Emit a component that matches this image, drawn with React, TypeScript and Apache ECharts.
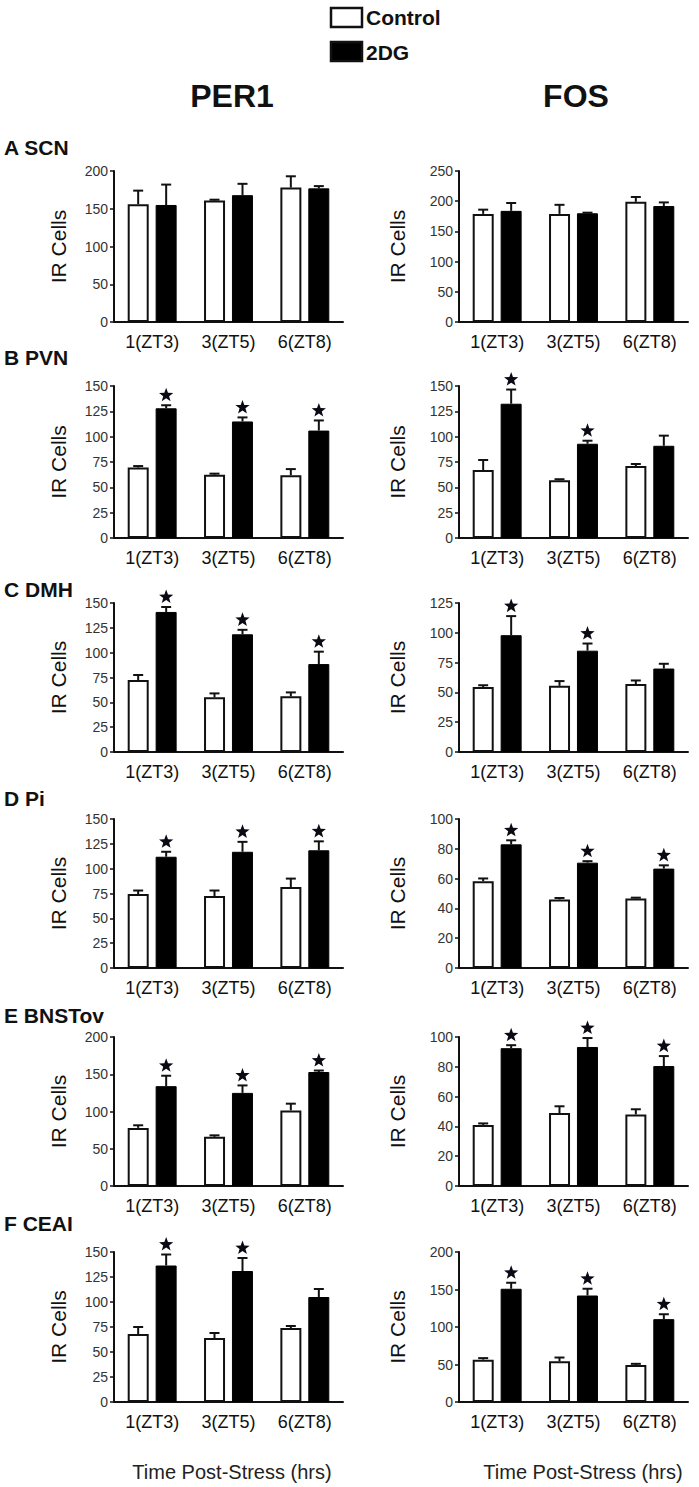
import React, { useEffect, useRef } from 'react';
import * as echarts from 'echarts';

const categories = ['1(ZT3)', '3(ZT5)', '6(ZT8)'];
const seriesNames = ['Control', '2DG'];
const columnTitles = ['PER1', 'FOS'];
const regionLabels = ['A SCN', 'B PVN', 'C DMH', 'D Pi', 'E BNSTov', 'F CEAI'];
const xTitle = 'Time Post-Stress (hrs)';
const yName = 'IR Cells';

// PER1 column
const scnPer1Ctrl = [156, 161, 178];
const scnPer1CtrlErr = [18, 1, 15];
const scnPer1Dg = [155, 168, 177];
const scnPer1DgErr = [27, 15, 3];
const scnPer1Star = [0, 0, 0];

const pvnPer1Ctrl = [69.5, 62.5, 62];
const pvnPer1CtrlErr = [1.5, 1, 6];
const pvnPer1Dg = [128, 115, 106];
const pvnPer1DgErr = [3, 4, 10];
const pvnPer1Star = [1, 1, 1];

const dmhPer1Ctrl = [72.5, 55, 56];
const dmhPer1CtrlErr = [5, 4, 4];
const dmhPer1Dg = [141, 118.5, 88.5];
const dmhPer1DgErr = [5, 4.5, 12.5];
const dmhPer1Star = [1, 1, 1];

const piPer1Ctrl = [74.5, 72.5, 81.5];
const piPer1CtrlErr = [3.5, 5.5, 8.5];
const piPer1Dg = [112, 117, 118.5];
const piPer1DgErr = [5, 10, 9];
const piPer1Star = [1, 1, 1];

const bnstPer1Ctrl = [78, 66, 101.5];
const bnstPer1CtrlErr = [3.5, 2, 9];
const bnstPer1Dg = [134, 125, 153];
const bnstPer1DgErr = [14, 10, 2];
const bnstPer1Star = [1, 1, 1];

const ceaPer1Ctrl = [68, 64, 74];
const ceaPer1CtrlErr = [7, 5, 2];
const ceaPer1Dg = [136.5, 131, 105];
const ceaPer1DgErr = [11, 13, 8];
const ceaPer1Star = [1, 1, 0];

// FOS column
const scnFosCtrl = [179, 179, 199];
const scnFosCtrlErr = [7, 15, 8];
const scnFosDg = [184, 180, 192];
const scnFosDgErr = [13, 1, 6];
const scnFosStar = [0, 0, 0];

const pvnFosCtrl = [67, 57, 71];
const pvnFosCtrlErr = [10, 1, 2];
const pvnFosDg = [132.5, 93, 91];
const pvnFosDgErr = [14, 3, 10];
const pvnFosStar = [1, 1, 0];

const dmhFosCtrl = [54.5, 55.5, 57];
const dmhFosCtrlErr = [1.5, 4, 3];
const dmhFosDg = [98, 85, 70];
const dmhFosDgErr = [16, 6, 4];
const dmhFosStar = [1, 1, 0];

const piFosCtrl = [58.3, 46, 46.7];
const piFosCtrlErr = [1.8, 1, 0.5];
const piFosDg = [83, 70.7, 66.7];
const piFosDgErr = [2.7, 1, 2.2];
const piFosStar = [1, 1, 1];

const bnstFosCtrl = [41, 49, 48];
const bnstFosCtrlErr = [1, 4.5, 3.5];
const bnstFosDg = [92.5, 93.3, 80.5];
const bnstFosDgErr = [2, 6, 6.7];
const bnstFosStar = [1, 1, 1];

const ceaFosCtrl = [56.5, 54.3, 49.4];
const ceaFosCtrlErr = [2, 5, 1.5];
const ceaFosDg = [151, 142, 110.5];
const ceaFosDgErr = [8, 9, 6.5];
const ceaFosStar = [1, 1, 1];

// y-axis ranges: [max, interval]
const per1Axis = [[200, 50], [150, 25], [150, 25], [150, 25], [200, 50], [150, 25]];
const fosAxis = [[250, 50], [150, 25], [125, 25], [100, 20], [100, 20], [200, 50]];

const per1Panels = [
  [scnPer1Ctrl, scnPer1CtrlErr, scnPer1Dg, scnPer1DgErr, scnPer1Star],
  [pvnPer1Ctrl, pvnPer1CtrlErr, pvnPer1Dg, pvnPer1DgErr, pvnPer1Star],
  [dmhPer1Ctrl, dmhPer1CtrlErr, dmhPer1Dg, dmhPer1DgErr, dmhPer1Star],
  [piPer1Ctrl, piPer1CtrlErr, piPer1Dg, piPer1DgErr, piPer1Star],
  [bnstPer1Ctrl, bnstPer1CtrlErr, bnstPer1Dg, bnstPer1DgErr, bnstPer1Star],
  [ceaPer1Ctrl, ceaPer1CtrlErr, ceaPer1Dg, ceaPer1DgErr, ceaPer1Star],
];
const fosPanels = [
  [scnFosCtrl, scnFosCtrlErr, scnFosDg, scnFosDgErr, scnFosStar],
  [pvnFosCtrl, pvnFosCtrlErr, pvnFosDg, pvnFosDgErr, pvnFosStar],
  [dmhFosCtrl, dmhFosCtrlErr, dmhFosDg, dmhFosDgErr, dmhFosStar],
  [piFosCtrl, piFosCtrlErr, piFosDg, piFosDgErr, piFosStar],
  [bnstFosCtrl, bnstFosCtrlErr, bnstFosDg, bnstFosDgErr, bnstFosStar],
  [ceaFosCtrl, ceaFosCtrlErr, ceaFosDg, ceaFosDgErr, ceaFosStar],
];

// layout
const ROW_TOPS = [171, 386, 603, 819, 1037, 1252];
const ROW_HEIGHTS = [151, 152, 149, 149, 149, 150];
const COL_LEFTS = [114, 459];
const GRID_W = 229;
const BAR_W = 21;
const BAR_OFFSET = 14;
const LABEL_Y = [147, 357, 589, 798, 1015, 1223];
const FONT = '"Liberation Sans", Arial, Helvetica, sans-serif';

function starPoints(cx: number, cy: number, R: number, r: number) {
  const pts: number[][] = [];
  for (let k = 0; k < 10; k++) {
    const rad = k % 2 === 0 ? R : r;
    const a = -Math.PI / 2 + (k * Math.PI) / 5;
    pts.push([cx + rad * Math.cos(a), cy + rad * Math.sin(a)]);
  }
  return pts;
}

function buildOption() {
  const grid: any[] = [];
  const xAxis: any[] = [];
  const yAxis: any[] = [];
  const series: any[] = [];
  let idx = 0;
  for (let col = 0; col < 2; col++) {
    const panels = col === 0 ? per1Panels : fosPanels;
    const axes = col === 0 ? per1Axis : fosAxis;
    for (let row = 0; row < 6; row++) {
      const [ctrl, ctrlErr, dg, dgErr, star] = panels[row];
      const [max, interval] = axes[row];
      grid.push({ left: COL_LEFTS[col], top: ROW_TOPS[row], width: GRID_W, height: ROW_HEIGHTS[row] });
      xAxis.push({
        type: 'category',
        gridIndex: idx,
        data: categories,
        axisLine: { show: true, lineStyle: { color: '#111', width: 2 } },
        axisTick: { show: false },
        axisLabel: { fontSize: 18, color: '#111', margin: 11, fontFamily: FONT },
      });
      yAxis.push({
        type: 'value',
        gridIndex: idx,
        min: 0,
        max,
        interval,
        name: yName,
        nameLocation: 'middle',
        nameGap: col === 0 ? 45 : 51,
        nameTextStyle: { fontSize: 21, color: '#111', fontFamily: FONT },
        axisLine: { show: true, lineStyle: { color: '#111', width: 2 } },
        axisTick: { show: true, length: 4, lineStyle: { color: '#111', width: 1.5 } },
        axisLabel: { fontSize: 14, color: '#333', margin: 6, fontFamily: FONT },
        splitLine: { show: false },
      });
      series.push({
        type: 'bar',
        name: seriesNames[0],
        xAxisIndex: idx,
        yAxisIndex: idx,
        data: ctrl,
        barWidth: BAR_W,
        barGap: '33%',
        itemStyle: { color: '#fff', borderColor: '#111', borderWidth: 2 },
      });
      series.push({
        type: 'bar',
        name: seriesNames[1],
        xAxisIndex: idx,
        yAxisIndex: idx,
        data: dg,
        barWidth: BAR_W,
        barGap: '33%',
        itemStyle: { color: '#000', borderColor: '#000', borderWidth: 1 },
      });
      const errData: any[] = [];
      ctrl.forEach((v: number, j: number) => errData.push([j, v, ctrlErr[j], -1, 0]));
      dg.forEach((v: number, j: number) => errData.push([j, v, dgErr[j], 1, star[j]]));
      series.push({
        type: 'custom',
        xAxisIndex: idx,
        yAxisIndex: idx,
        data: errData,
        z: 5,
        renderItem: (params: any, api: any) => {
          const cat = api.value(0);
          const v = api.value(1);
          const e = api.value(2);
          const side = api.value(3);
          const st = api.value(4);
          const base = api.coord([cat, v]);
          const top = api.coord([cat, v + e]);
          const x = base[0] + side * BAR_OFFSET;
          const children: any[] = [
            {
              type: 'line',
              shape: { x1: x, y1: base[1], x2: x, y2: top[1] },
              style: { stroke: '#111', lineWidth: 2 },
            },
            {
              type: 'line',
              shape: { x1: x - 5, y1: top[1], x2: x + 5, y2: top[1] },
              style: { stroke: '#111', lineWidth: 2 },
            },
          ];
          if (st) {
            children.push({
              type: 'polygon',
              shape: { points: starPoints(x, top[1] - 10, 7.5, 3.1) },
              style: { fill: '#0a0a14' },
            });
          }
          return { type: 'group', children };
        },
      });
      idx++;
    }
  }

  const graphic: any[] = [
    { type: 'rect', shape: { x: 331, y: 8, width: 31, height: 19 }, style: { fill: '#fff', stroke: '#111', lineWidth: 2.5 } },
    { type: 'rect', shape: { x: 331, y: 42, width: 31, height: 19 }, style: { fill: '#000', stroke: '#111', lineWidth: 2.5 } },
    { type: 'text', x: 366, y: 17, style: { text: seriesNames[0], font: `bold 21px ${FONT}`, fill: '#111', textVerticalAlign: 'middle' } },
    { type: 'text', x: 366, y: 52, style: { text: seriesNames[1], font: `bold 21px ${FONT}`, fill: '#111', textVerticalAlign: 'middle' } },
    { type: 'text', x: 232, y: 96, style: { text: columnTitles[0], font: `bold 32px ${FONT}`, fill: '#111', textAlign: 'center', textVerticalAlign: 'middle' } },
    { type: 'text', x: 576, y: 96, style: { text: columnTitles[1], font: `bold 32px ${FONT}`, fill: '#111', textAlign: 'center', textVerticalAlign: 'middle' } },
    { type: 'text', x: 232, y: 1472, style: { text: xTitle, font: `20px ${FONT}`, fill: '#222', textAlign: 'center', textVerticalAlign: 'middle' } },
    { type: 'text', x: 583, y: 1472, style: { text: xTitle, font: `20px ${FONT}`, fill: '#222', textAlign: 'center', textVerticalAlign: 'middle' } },
  ];
  regionLabels.forEach((lab, r) => {
    graphic.push({
      type: 'text',
      x: 4,
      y: LABEL_Y[r],
      style: { text: lab, font: `bold 21px ${FONT}`, fill: '#111', textVerticalAlign: 'middle' },
    });
  });

  return {
    animation: false,
    backgroundColor: '#fff',
    textStyle: { fontFamily: FONT },
    grid,
    xAxis,
    yAxis,
    series,
    graphic,
  };
}

export default function App() {
  const ref = useRef<HTMLDivElement>(null);
  useEffect(() => {
    if (!ref.current) return;
    const chart = echarts.init(ref.current, undefined, { renderer: 'svg' });
    chart.setOption(buildOption() as any);
    return () => chart.dispose();
  }, []);
  return (
    <div
      ref={ref}
      style={{ position: 'absolute', left: 0, top: 0, width: 699, height: 1487, background: '#fff' }}
    />
  );
}
